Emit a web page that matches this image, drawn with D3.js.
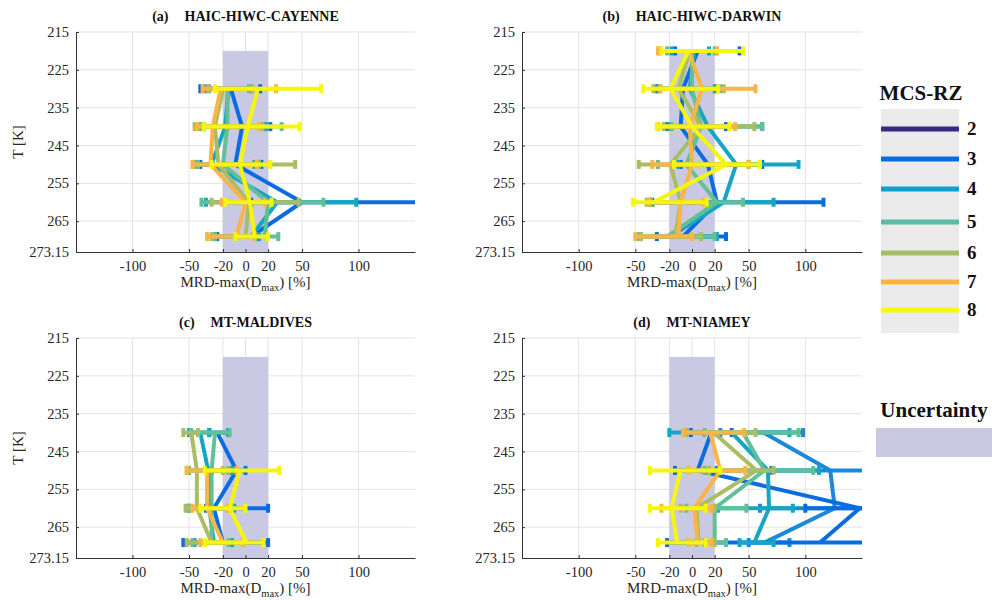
<!DOCTYPE html>
<html><head><meta charset="utf-8">
<script src="https://cdn.jsdelivr.net/npm/d3@7"></script>
<style>
body{margin:0;background:#fff;}
svg text{font-family:"Liberation Serif","Times New Roman",Times,"DejaVu Serif",serif !important;}
</style></head><body>
<svg id="chart" width="992" height="600"></svg>
<script>
// ---------- data ----------
const temps = [220, 230, 240, 250, 260, 269.075];
const yTicks = [215, 225, 235, 245, 255, 265, 273.15];
const yTickLabels = ['215', '225', '235', '245', '255', '265', '273.15'];
const xTicks = [-100, -50, -20, 0, 20, 50, 100];
const xTickLabels = ['-100', '-50', '-20', '0', '20', '50', '100'];
const seriesNames = ['2', '3', '4', '5', '6', '7', '8'];
const legendColors = ['#352b85', '#0b6ce2', '#0ea0d0', '#5cbda6', '#a5be6b', '#fcb441', '#f9f90d'];
const lineColors = ['#1e88d8', '#0b6ce2', '#16a6c4', '#62bf96', '#a9bd66', '#fbb546', '#f6f60c'];
const panelLetters = ['(a)', '(b)', '(c)', '(d)'];
const panelNames = ['HAIC-HIWC-CAYENNE', 'HAIC-HIWC-DARWIN', 'MT-MALDIVES', 'MT-NIAMEY'];
const uncertaintyX = [-20, 20];
const uncertaintyT = [220, 273.15];
const N = null;

// (a) CAYENNE: rows = series 2..8, columns = temps
const cayenneMid = [
  [N, N, N, N, N, N],
  [N, -13, -3, -9, 50, 5],
  [N, -15, -18, -30, 28, 5],
  [N, -16, -16, -20, 20, 17],
  [N, -20, -27, -24, 3, 0],
  [N, -22, -29, -31, 0, -8],
  [N, 11, 2, -5, 4, 8]
];
const cayenneLo = [
  [N, N, N, N, N, N],
  [N, -40, -37, -40, 5, -25],
  [N, -36, -38, -45, -35, -27],
  [N, -32, -40, -42, -39, -27],
  [N, -33, -45, -46, -30, -30],
  [N, -38, -43, -47, -21, -34],
  [N, -27, -37, -30, -18, -9]
];
const cayenneHi = [
  [N, N, N, N, N, N],
  [N, 13, 22, 14, 170, 10],
  [N, 5, 18, 8, 98, 12],
  [N, 3, 32, 12, 69, 29],
  [N, 6, 15, 44, 47, 8],
  [N, 27, 12, 10, 17, 8],
  [N, 67, 48, 22, 23, 20]
];

// (b) DARWIN
const darwinMid = [
  [N, N, N, N, N, N],
  [5, -8, -10, 14, 22, -8],
  [2, -2, 14, 39, 28, -19],
  [0, 0, 8, -5, 22, -22],
  [-2, -12, 8, -19, -10, -15],
  [-3, 9, -2, 0, -10, -12],
  [-3, -19, 0, 30, -34, N]
];
const darwinLo = [
  [N, N, N, N, N, N],
  [-15, -30, -22, -10, -35, -31],
  [-18, -32, -20, -12, -38, -45],
  [-22, -28, -18, -30, -36, -47],
  [-28, -34, -25, -47, -40, -45],
  [-30, -28, -30, -35, -38, -50],
  [-27, -43, -31, -16, -52, N]
];
const darwinHi = [
  [N, N, N, N, N, N],
  [42, 22, 30, 62, 116, 30],
  [15, 20, 62, 94, 72, 22],
  [20, 25, 62, 50, 45, 20],
  [22, 28, 55, 50, 12, 8],
  [22, 56, 38, 50, 10, 0],
  [45, 23, 33, 60, 13, N]
];

// (c) MALDIVES
const maldivesMid = [
  [N, N, N, N, N, N],
  [N, N, -25, -8, -28, -20],
  [N, N, -40, -33, -32, -28],
  [N, N, -27, -30, -30, -30],
  [N, N, -48, -43, -43, -30],
  [N, N, N, -34, -34, -20],
  [N, N, N, -5, -14, 1]
];
const maldivesLo = [
  [N, N, N, N, N, N],
  [N, N, -32, -30, -35, -55],
  [N, N, -50, -50, -50, -45],
  [N, N, -48, -50, -50, -47],
  [N, N, -55, -52, -53, -52],
  [N, N, N, -52, -47, -40],
  [N, N, N, -36, -40, -36]
];
const maldivesHi = [
  [N, N, N, N, N, N],
  [N, N, -15, 0, 20, 20],
  [N, N, -32, -12, -10, -12],
  [N, N, -14, -15, -12, -15],
  [N, N, -42, -20, -15, -2],
  [N, N, N, -8, -16, -2],
  [N, N, N, 30, 0, 16]
];

// (d) NIAMEY
const niameyMid = [
  [N, N, 63, 122, 126, 64],
  [N, N, 17, 5, 148, 113],
  [N, N, 35, 67, 68, 55],
  [N, N, 45, 64, 20, 20],
  [N, N, 19, 57, 4, 6],
  [N, N, 16, 25, 2, 5],
  [N, N, N, -10, -18, -13]
];
const niameyLo = [
  [N, N, 25, 70, 60, 50],
  [N, N, -1, -15, 100, -22],
  [N, N, -20, 15, 23, 42],
  [N, N, 11, 11, -5, 11],
  [N, N, -5, 15, -10, 4],
  [N, N, -8, -3, -27, -3],
  [N, N, N, -37, -37, -30]
];
const niameyHi = [
  [N, N, 98, 170, 170, 86],
  [N, N, 35, 22, 170, 170],
  [N, N, 86, 112, 89, 72],
  [N, N, 94, 107, 48, 30],
  [N, N, 56, 72, 20, 20],
  [N, N, 46, 47, 17, 17],
  [N, N, N, 25, 12, 12]
];

// ---------- layout ----------
const FONT = '"Liberation Serif","Times New Roman",Times,"DejaVu Serif",serif';
const svg = d3.select('#chart').attr('font-family', FONT);
const panels = [
  {mid: cayenneMid, lo: cayenneLo, hi: cayenneHi, x0: 76, x1: 415, y0: 32, y1: 252, ylab: true},
  {mid: darwinMid, lo: darwinLo, hi: darwinHi, x0: 522, x1: 862, y0: 32, y1: 252, ylab: false},
  {mid: maldivesMid, lo: maldivesLo, hi: maldivesHi, x0: 76, x1: 415, y0: 338, y1: 558, ylab: true},
  {mid: niameyMid, lo: niameyLo, hi: niameyHi, x0: 522, x1: 862, y0: 338, y1: 558, ylab: false}
];
const txtCol = '#262626';
const LW = 4;

panels.forEach((p, pi) => {
  const x = d3.scaleLinear().domain([-150, 150]).range([p.x0, p.x1]);
  const y = d3.scaleLinear().domain([215, 273.15]).range([p.y0, p.y1]);
  const g = svg.append('g');

  g.selectAll('.vg').data(xTicks).enter().append('line')
    .attr('x1', d => x(d)).attr('x2', d => x(d)).attr('y1', p.y0).attr('y2', p.y1)
    .attr('stroke', '#e3e3e3').attr('stroke-width', 1);
  g.selectAll('.hg').data(yTicks.slice(0, -1)).enter().append('line')
    .attr('x1', p.x0).attr('x2', p.x1).attr('y1', d => y(d)).attr('y2', d => y(d))
    .attr('stroke', '#e3e3e3').attr('stroke-width', 1);

  g.append('rect')
    .attr('x', x(uncertaintyX[0])).attr('width', x(uncertaintyX[1]) - x(uncertaintyX[0]))
    .attr('y', y(uncertaintyT[0])).attr('height', y(uncertaintyT[1]) - y(uncertaintyT[0]))
    .attr('fill', '#c9c9e3');

  const cid = 'clip' + pi;
  svg.append('clipPath').attr('id', cid).append('rect')
    .attr('x', p.x0).attr('y', p.y0 - 10).attr('width', p.x1 - p.x0).attr('height', p.y1 - p.y0 + 10);
  const cg = g.append('g').attr('clip-path', `url(#${cid})`);

  const line = d3.line().defined(d => d.v !== null).x(d => x(d.v)).y(d => y(d.t));
  seriesNames.forEach((s, si) => {
    const col = lineColors[si];
    const pts = temps.map((t, ti) => ({t, v: p.mid[si][ti], lo: p.lo[si][ti], hi: p.hi[si][ti]}));
    const valid = pts.filter(d => d.v !== null);
    if (!valid.length) return;
    const sg = cg.append('g');
    sg.selectAll('.eb').data(valid).enter().append('line')
      .attr('x1', d => x(d.lo)).attr('x2', d => x(d.hi))
      .attr('y1', d => y(d.t)).attr('y2', d => y(d.t))
      .attr('stroke', col).attr('stroke-width', LW);
    const caps = [];
    valid.forEach(d => { caps.push({t: d.t, v: d.lo}); caps.push({t: d.t, v: d.hi}); });
    sg.selectAll('.cap').data(caps).enter().append('line')
      .attr('x1', d => x(d.v)).attr('x2', d => x(d.v))
      .attr('y1', d => y(d.t) - 4.5).attr('y2', d => y(d.t) + 4.5)
      .attr('stroke', col).attr('stroke-width', LW);
    sg.append('path').datum(pts).attr('d', line)
      .attr('fill', 'none').attr('stroke', col).attr('stroke-width', LW)
      .attr('stroke-linejoin', 'round');
  });

  const xa = d3.axisBottom(x).tickValues(xTicks).tickFormat((d, i) => xTickLabels[i])
    .tickSizeInner(-3).tickSizeOuter(0).tickPadding(9);
  const xg = g.append('g').attr('transform', `translate(0,${p.y1})`).call(xa).attr('font-family', FONT);
  xg.select('.domain').attr('stroke', '#333').attr('stroke-width', 1);
  xg.selectAll('.tick line').attr('stroke', '#333');
  xg.selectAll('text').attr('font-size', 14.5).attr('fill', txtCol);

  const ya = d3.axisLeft(y).tickValues(yTicks).tickFormat((d, i) => yTickLabels[i])
    .tickSizeInner(-3).tickSizeOuter(0).tickPadding(7);
  const yg = g.append('g').attr('transform', `translate(${p.x0},0)`).call(ya).attr('font-family', FONT);
  yg.select('.domain').attr('stroke', '#333').attr('stroke-width', 1);
  yg.selectAll('.tick line').attr('stroke', '#333');
  yg.selectAll('text').attr('font-size', 14.5).attr('fill', txtCol);

  const xl = g.append('text').attr('x', (p.x0 + p.x1) / 2).attr('y', p.y1 + 35)
    .attr('text-anchor', 'middle').attr('font-size', 15).attr('fill', txtCol);
  xl.append('tspan').text('MRD-max(D');
  xl.append('tspan').attr('font-size', 10.5).attr('dy', 4).text('max');
  xl.append('tspan').attr('dy', -4).text(') [%]');

  if (p.ylab) {
    g.append('text').attr('transform', `translate(23,${(p.y0 + p.y1) / 2}) rotate(-90)`)
      .attr('text-anchor', 'middle').attr('font-size', 15).attr('fill', txtCol).text('T [K]');
  }

  const cx = (p.x0 + p.x1) / 2;
  const tt = g.append('text').attr('x', cx).attr('y', p.y0 - 11).attr('text-anchor', 'middle')
    .attr('font-size', 14).attr('font-weight', 'bold').attr('fill', '#111');
  tt.append('tspan').text(panelLetters[pi]);
  tt.append('tspan').attr('dx', 16).text(panelNames[pi]);
});

// ---------- legend ----------
const lg = svg.append('g');
lg.append('text').attr('x', 921).attr('y', 100).attr('text-anchor', 'middle')
  .attr('font-size', 21).attr('font-weight', 'bold').attr('fill', '#111').text('MCS-RZ');
lg.append('rect').attr('x', 881).attr('y', 109).attr('width', 78).attr('height', 224).attr('fill', '#ebebeb');
const legYs = [129, 159, 189, 222, 253, 282, 310];
seriesNames.forEach((s, i) => {
  lg.append('line').attr('x1', 881).attr('x2', 959).attr('y1', legYs[i]).attr('y2', legYs[i])
    .attr('stroke', legendColors[i]).attr('stroke-width', 5);
  lg.append('text').attr('x', 967).attr('y', legYs[i] + 6).attr('font-size', 19)
    .attr('font-weight', 'bold').attr('fill', '#111').text(s);
});
lg.append('text').attr('x', 934).attr('y', 417).attr('text-anchor', 'middle')
  .attr('font-size', 21).attr('font-weight', 'bold').attr('fill', '#111').text('Uncertainty');
lg.append('rect').attr('x', 876).attr('y', 428).attr('width', 116).attr('height', 29).attr('fill', '#c9c9e3');
</script>
</body></html>
